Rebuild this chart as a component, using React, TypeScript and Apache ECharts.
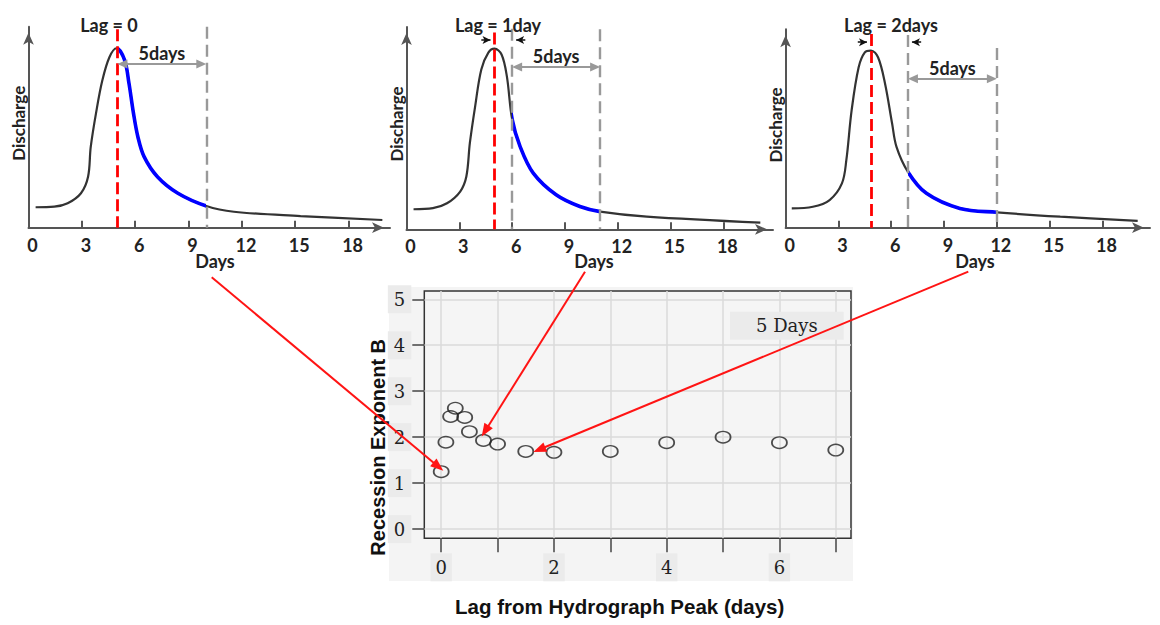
import React, { useEffect, useRef } from "react";
import * as echarts from "echarts";

// ---------- Data ----------
// Hydrograph for lag = 0 (days, relative discharge)
const hydroADays = [0.4, 1.45, 2.2, 2.95, 3.35, 3.5, 3.8, 4.15, 4.55, 4.95, 5.4, 5.65, 5.9, 6.15, 6.5, 7.25, 8.4, 10.0, 11.55, 15.3, 19.9];
const hydroAFlow = [11.4, 11.7, 13.6, 19.2, 28.4, 45, 64, 82, 95, 100, 93.5, 80.5, 64, 50.7, 39.6, 28.4, 19.2, 12.1, 8.9, 6.5, 4.3];
// Hydrograph for lag = 1 day
const hydroBDays = [0.4, 1.5, 2.3, 3.05, 3.4, 3.6, 3.9, 4.25, 4.65, 5.0, 5.4, 5.7, 6.0, 6.45, 7.2, 8.5, 9.85, 11.0, 13.65, 20.1];
const hydroBFlow = [11.1, 11.7, 14.4, 20.9, 29.2, 47.8, 68.1, 88.5, 97.8, 100, 96.8, 84.8, 61, 45.9, 31.1, 19.1, 12.6, 9.8, 7.0, 3.7];
// Hydrograph for lag = 2 days
const hydroCDays = [0.35, 1.55, 2.5, 3.2, 3.45, 3.75, 4.15, 4.5, 4.85, 5.25, 5.65, 6.05, 6.3, 6.95, 8.0, 9.9, 12.0, 15.6, 20.0];
const hydroCFlow = [10.9, 11.8, 15.6, 25, 38.1, 66.2, 90.6, 99, 100, 96.2, 81.3, 58.8, 45.6, 31.5, 19.4, 10.9, 8.7, 6.2, 3.9];

const peakDays = [5.0, 5.0, 4.85];
const windowStartDays = [5.0, 6.0, 6.95];
const blueStartDays = [4.95, 6.0, 6.95];
const windowEndDays = [10.0, 11.0, 12.0];
const lagTexts = ["Lag = 0", "Lag = 1day", "Lag = 2days"];
const windowText = "5days";

const dayTickValues = [3, 6, 9, 12, 15, 18];
const dayLabelValues = [0, 3, 6, 9, 12, 15, 18];

// Scatter: recession exponent vs lag
const lagDays = [0, 0.083, 0.167, 0.25, 0.417, 0.5, 0.75, 1, 1.5, 2, 3, 4, 5, 6, 7];
const recessionB = [1.25, 1.89, 2.45, 2.63, 2.43, 2.12, 1.93, 1.85, 1.69, 1.67, 1.69, 1.88, 2.0, 1.88, 1.72];
const lagTickValues = [0, 1, 2, 3, 4, 5, 6, 7];
const lagLabelValues = [0, 2, 4, 6];
const bTickValues = [0, 1, 2, 3, 4, 5];

// ---------- Layout ----------
const panelLayout = [
  { left: 28.5, top: 26.7, width: 361.5, height: 201, xMax: 20.33, redTop: 110.6, grays: [{ x: 10.0, top: 112 }], arrowY: 91.2, smallY: null as number | null, lagX: 109, daysX: 215, dischargeX: 18.5, dischargeY: 123.3 },
  { left: 406.5, top: 27, width: 366.5, height: 202.3, xMax: 20.82, redTop: 109, grays: [{ x: 6.0, top: 111 }, { x: 11.0, top: 110.7 }], arrowY: 89.8, smallY: 104.8, lagX: 498, daysX: 594, dischargeX: 396.5, dischargeY: 124 },
  { left: 785.6, top: 29.3, width: 364.4, height: 198.4, xMax: 20.7, redTop: 109.4, grays: [{ x: 6.95, top: 108.8 }, { x: 12.0, top: 101.5 }], arrowY: 84.1, smallY: 104.7, lagX: 891, daysX: 975, dischargeX: 775.5, dischargeY: 125 },
];
const Y_MAX = 112;

const topFont = { fontFamily: "Lato", fontWeight: "bold" as const, color: "#222" };

function redArrow(x1: number, y1: number, x2: number, y2: number) {
  const dx = x2 - x1, dy = y2 - y1;
  const L = Math.hypot(dx, dy);
  const ux = dx / L, uy = dy / L, px = -uy, py = ux;
  const hl = 13, hw = 5;
  const bx = x2 - ux * hl, by = y2 - uy * hl;
  return [
    { type: "line", z: 100, shape: { x1, y1, x2: bx + ux * 2, y2: by + uy * 2 }, style: { stroke: "#ff1414", lineWidth: 2 } },
    { type: "polygon", z: 100, shape: { points: [[x2, y2], [bx + px * hw, by + py * hw], [bx - px * hw, by - py * hw]] }, style: { fill: "#ff1414" } },
  ];
}

function buildOption() {
  const hydroDays = [hydroADays, hydroBDays, hydroCDays];
  const hydroFlow = [hydroAFlow, hydroBFlow, hydroCFlow];

  const grid: any[] = [];
  const xAxis: any[] = [];
  const yAxis: any[] = [];
  const series: any[] = [];
  const graphic: any[] = [];
  const visualMap: any[] = [];

  panelLayout.forEach((p, i) => {
    grid.push({ left: p.left, top: p.top, width: p.width, height: p.height, show: false });
    const axisLineStyle = { color: "#555", width: 2 };
    xAxis.push({
      type: "value", gridIndex: i, min: 0, max: p.xMax,
      axisLine: { show: true, onZero: false, symbol: ["none", "arrow"], symbolSize: [8, 12], symbolOffset: [0, -6], lineStyle: axisLineStyle },
      axisTick: { show: true, inside: true, length: 7, customValues: dayTickValues, lineStyle: axisLineStyle },
      axisLabel: { show: true, customValues: dayLabelValues, margin: 8, padding: [0, 0, 0, 8], fontSize: 18, ...topFont },
      splitLine: { show: false },
    });
    yAxis.push({
      type: "value", gridIndex: i, min: 0, max: Y_MAX,
      axisLine: { show: true, onZero: false, symbol: ["none", "arrow"], symbolSize: [8, 12], symbolOffset: [0, -6], lineStyle: axisLineStyle },
      axisTick: { show: false }, axisLabel: { show: false }, splitLine: { show: false },
    });

    const pxPerDay = p.width / p.xMax;
    const full = hydroDays[i].map((d, k) => [d, hydroFlow[i][k]]);

    const markData: any[] = [];
    markData.push([
      { coord: [peakDays[i], p.redTop], lineStyle: { color: "#ff0000", width: 2.8, type: [12, 5] } },
      { coord: [peakDays[i], 0] },
    ]);
    p.grays.forEach((g) => {
      markData.push([
        { coord: [g.x, g.top], lineStyle: { color: "#999", width: 2.4, type: [12, 6] } },
        { coord: [g.x, 0] },
      ]);
    });
    const inset = 5 / pxPerDay;
    markData.push([
      {
        coord: [windowStartDays[i] + inset, p.arrowY], symbol: "triangle", symbolSize: [9, 10],
        lineStyle: { color: "#999", width: 2, type: "solid" },
        label: { show: true, position: "middle", formatter: windowText, distance: 2, fontSize: 18, ...topFont },
      },
      { coord: [windowEndDays[i] - inset, p.arrowY], symbol: "triangle", symbolSize: [9, 10] },
    ]);
    if (p.smallY !== null) {
      const sInset = 4 / pxPerDay;
      markData.push([
        { coord: [peakDays[i] - 0.75, p.smallY], symbol: "none", lineStyle: { color: "#111", width: 1.5, type: "solid" } },
        { coord: [peakDays[i] - sInset, p.smallY], symbol: "arrow", symbolSize: [6, 8] },
      ]);
      markData.push([
        { coord: [windowStartDays[i] + 0.75, p.smallY], symbol: "none", lineStyle: { color: "#111", width: 1.5, type: "solid" } },
        { coord: [windowStartDays[i] + sInset, p.smallY], symbol: "arrow", symbolSize: [6, 8] },
      ]);
    }

    series.push({
      type: "line", xAxisIndex: i, yAxisIndex: i, data: full, smooth: 0.35,
      showSymbol: false, lineStyle: { color: "#333", width: 2.2 }, z: 2, silent: true,
      markLine: { silent: true, symbol: ["none", "none"], label: { show: false }, data: markData, animation: false, z: 4 },
    });
    const blueIndex = series.length;
    series.push({
      type: "line", xAxisIndex: i, yAxisIndex: i, data: full, smooth: 0.35,
      showSymbol: false, lineStyle: { width: 3.6 }, z: 3, silent: true,
    });
    visualMap.push({
      type: "piecewise", show: false, dimension: 0, seriesIndex: blueIndex,
      pieces: [{ gte: blueStartDays[i], lte: windowEndDays[i], color: "#0000ff" }],
      outOfRange: { color: "rgba(0,0,0,0)" },
    });

    graphic.push({ type: "text", x: p.lagX, y: 24.5, z: 50, style: { text: lagTexts[i], fontFamily: "Lato", fontWeight: "bold", fontSize: 18, fill: "#222", align: "center", verticalAlign: "middle" } });
    graphic.push({ type: "text", x: p.daysX, y: 261, z: 50, style: { text: "Days", fontFamily: "Lato", fontWeight: "bold", fontSize: 18, fill: "#222", align: "center", verticalAlign: "middle" } });
    graphic.push({ type: "text", x: p.dischargeX, y: p.dischargeY, rotation: Math.PI / 2, z: 50, style: { text: "Discharge", fontFamily: "Lato", fontWeight: "bold", fontSize: 17, fill: "#222", align: "center", verticalAlign: "middle" } });
  });

  // Scatter panel
  grid.push({ left: 424.3, top: 291, width: 426.7, height: 247.3, show: true, backgroundColor: "#f5f5f5", borderColor: "#333", borderWidth: 1.5 });
  const serifLabel = { fontFamily: "DejaVu Serif", fontSize: 18, color: "#222", backgroundColor: "#ebebeb" };
  xAxis.push({
    type: "value", gridIndex: 3, min: -0.3, max: 7.27,
    axisLine: { show: false, onZero: false },
    axisTick: { show: true, length: 14, customValues: lagTickValues, lineStyle: { color: "#444", width: 1.5 } },
    axisLabel: { show: true, customValues: lagLabelValues, margin: 15, padding: [5, 5, 5, 5], ...serifLabel },
    splitLine: { show: true, lineStyle: { color: "#dadada", width: 1.5 } },
  });
  yAxis.push({
    type: "value", gridIndex: 3, min: -0.2, max: 5.18,
    axisLine: { show: false, onZero: false },
    axisTick: { show: true, length: 12, customValues: bTickValues, lineStyle: { color: "#444", width: 1.5 } },
    axisLabel: { show: true, customValues: bTickValues, margin: 13, padding: [5, 6, 5, 6], ...serifLabel },
    splitLine: { show: true, lineStyle: { color: "#dadada", width: 1.5 } },
  });
  series.push({
    type: "scatter", xAxisIndex: 3, yAxisIndex: 3, name: "5 Days",
    data: lagDays.map((l, k) => [l, recessionB[k]]),
    symbol: "circle", symbolSize: [15, 11.5], silent: true,
    itemStyle: { color: "rgba(0,0,0,0)", borderColor: "#222", borderWidth: 1.6 }, z: 5,
  });

  graphic.push({ type: "rect", z: -10, shape: { x: 389, y: 287, width: 464, height: 294 }, style: { fill: "#f4f4f4" } });
  graphic.push({ type: "text", x: 378.3, y: 447.3, rotation: Math.PI / 2, z: 50, style: { text: "Recession Exponent B", fontFamily: "Liberation Sans", fontWeight: "bold", fontSize: 20, fill: "#111", align: "center", verticalAlign: "middle" } });
  graphic.push({ type: "text", x: 619.7, y: 606.7, z: 50, style: { text: "Lag from Hydrograph Peak (days)", fontFamily: "Liberation Sans", fontWeight: "bold", fontSize: 20.5, fill: "#111", align: "center", verticalAlign: "middle" } });

  graphic.push(...redArrow(211.7, 277.3, 443.3, 470.7));
  graphic.push(...redArrow(585, 271.7, 481.7, 436.5));
  graphic.push(...redArrow(968.3, 271.7, 533.3, 452));

  return {
    animation: false,
    backgroundColor: "#ffffff",
    title: {
      text: "5 Days", left: 730, top: 311.7, padding: [5, 26, 5, 26], backgroundColor: "#ebebeb",
      textStyle: { fontFamily: "DejaVu Serif", fontSize: 18, fontWeight: "normal", color: "#222" },
    },
    visualMap, grid, xAxis, yAxis, series, graphic,
  };
}

export default function App() {
  const ref = useRef<HTMLDivElement>(null);
  useEffect(() => {
    if (!ref.current) return;
    const chart = echarts.init(ref.current, null, { renderer: "svg" });
    chart.setOption(buildOption() as any);
    return () => chart.dispose();
  }, []);
  return <div ref={ref} style={{ position: "absolute", left: 0, top: 0, width: 1160, height: 625 }} />;
}
